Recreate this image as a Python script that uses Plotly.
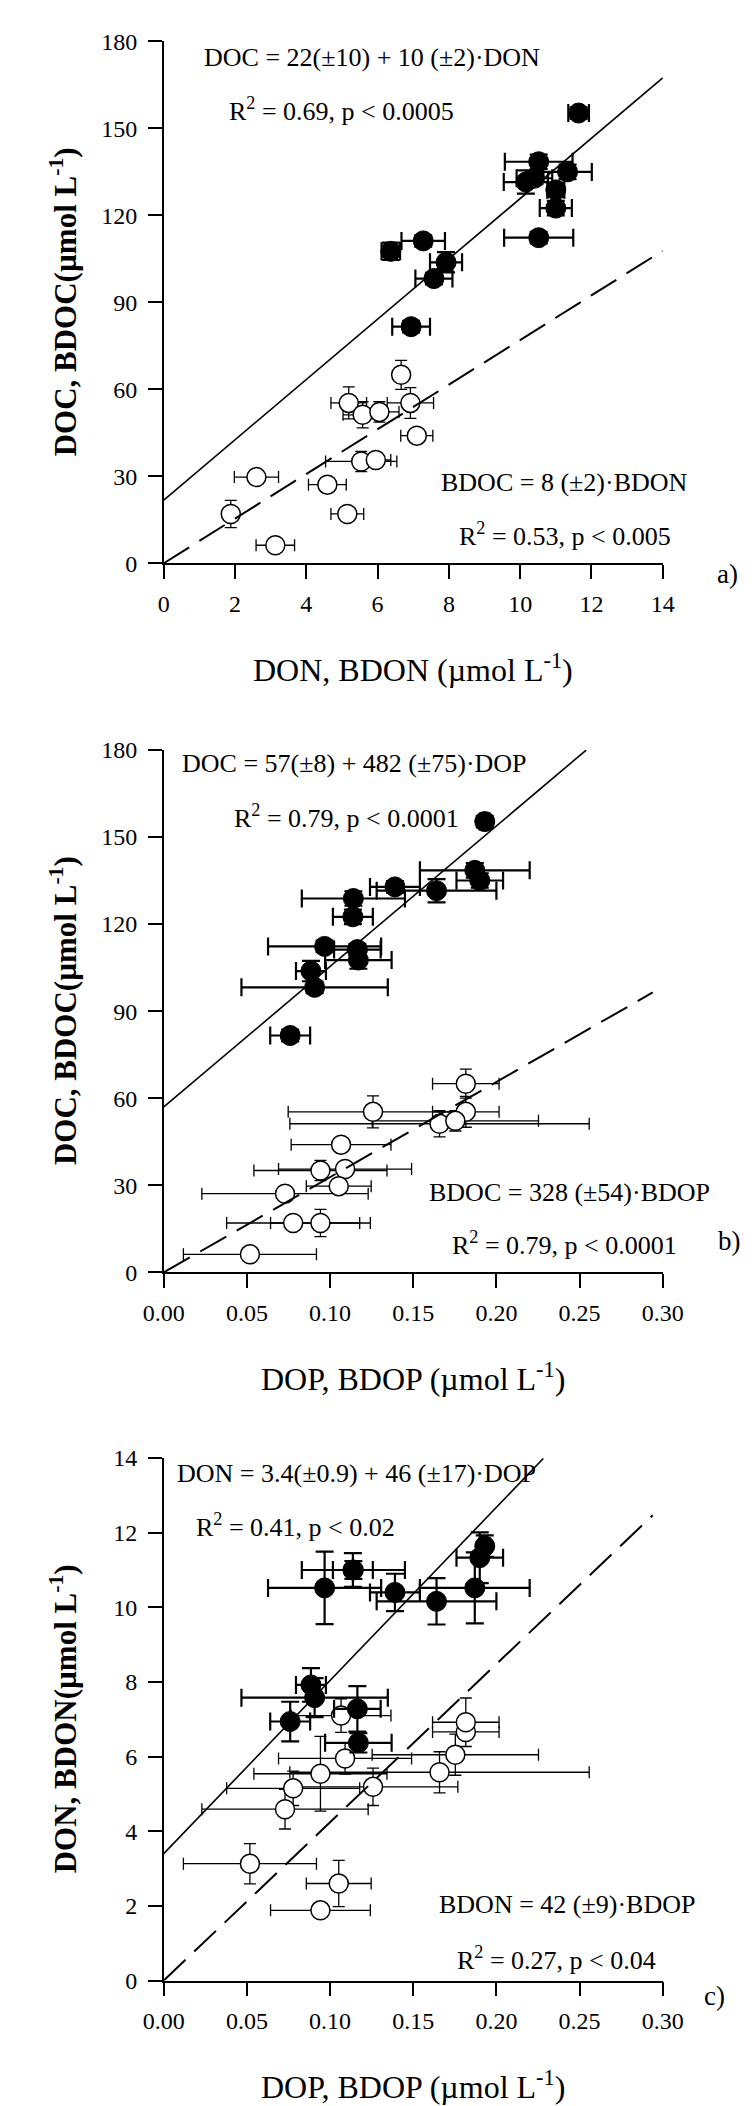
import plotly.graph_objects as go

# ---------------- data ----------------
# filled circles: DOC / DON / DOP (same 13 samples in the three panels)
doc = [155.3, 138.5, 135.0, 132.8, 131.5, 128.8, 122.5, 112.3, 111.2, 107.6, 103.8, 98.2, 81.6]
doc_err = [2.0, 2.5, 2.5, 2.0, 4.0, 2.5, 2.5, 2.0, 2.0, 3.0, 3.5, 2.0, 2.0]
don = [11.64, 10.52, 11.33, 10.40, 10.16, 11.00, 11.00, 10.52, 7.28, 6.37, 7.92, 7.58, 6.94]
don_err = [0.29, 0.95, 0.68, 0.50, 0.62, 0.24, 0.45, 0.97, 0.61, 0.26, 0.45, 0.52, 0.53]
dop = [0.193, 0.187, 0.190, 0.139, 0.164, 0.114, 0.1137, 0.0967, 0.1164, 0.117, 0.0885, 0.0907, 0.076]
dop_err = [0.003, 0.033, 0.014, 0.015, 0.036, 0.031, 0.012, 0.034, 0.014, 0.020, 0.009, 0.044, 0.012]

# open circles: BDOC / BDON / BDOP
bdoc = [65.0, 55.3, 55.3, 51.2, 52.2, 44.0, 35.1, 35.6, 29.7, 27.1, 17.0, 17.0, 6.2]
bdoc_err = [5.0, 5.5, 5.3, 4.5, 3.5, 1.0, 3.5, 1.0, 1.0, 1.0, 4.7, 2.0, 1.0]
bdon = [6.66, 5.19, 6.92, 5.58, 6.05, 7.10, 5.54, 5.95, 2.60, 4.59, 1.88, 5.15, 3.13]
bdon_err = [0.15, 0.50, 0.65, 0.55, 0.55, 0.45, 1.00, 0.42, 0.62, 0.53, 0.15, 0.46, 0.54]
bdop = [0.1816, 0.1258, 0.1816, 0.1658, 0.1753, 0.1066, 0.0942, 0.109, 0.1052, 0.0729, 0.0942, 0.0778, 0.0518]
bdop_err = [0.020, 0.051, 0.020, 0.090, 0.050, 0.030, 0.040, 0.040, 0.0195, 0.050, 0.030, 0.040, 0.040]

# regression lines as drawn: [intercept, slope, x_end]
fit_a_solid = [21.8, 10.4, 14.0]
fit_a_dash = [0.0, 7.7, 14.0]
fit_b_solid = [57.0, 484.0, 0.254]
fit_b_dash = [0.0, 328.0, 0.294]
fit_c_solid = [3.4, 46.4, 0.2282]
fit_c_dash = [0.0, 42.4, 0.294]

# equation texts
eq_a = ["DOC = 22(±10) + 10 (±2)·DON", "R<sup>2</sup> = 0.69, p &lt; 0.0005",
        "BDOC = 8 (±2)·BDON", "R<sup>2</sup> = 0.53, p &lt; 0.005"]
eq_b = ["DOC = 57(±8) + 482 (±75)·DOP", "R<sup>2</sup> = 0.79, p &lt; 0.0001",
        "BDOC = 328 (±54)·BDOP", "R<sup>2</sup> = 0.79, p &lt; 0.0001"]
eq_c = ["DON = 3.4(±0.9) + 46 (±17)·DOP", "R<sup>2</sup> = 0.41, p &lt; 0.02",
        "BDON = 42 (±9)·BDOP", "R<sup>2</sup> = 0.27, p &lt; 0.04"]

# ---------------- layout constants (pixels) ----------------
W, H = 756, 2106
FONT = "Liberation Serif"
X0, X1 = 142.7, 671.0

panels = [
    dict(key="", fx=don, fxe=don_err, fy=doc, fye=doc_err,
         ox=bdon, oxe=bdon_err, oy=bdoc, oye=bdoc_err,
         solid=fit_a_solid, dash=fit_a_dash, xr=[0, 14], dx=2, xf="",
         yr=[0, 180], dy=30, top=20.7, bot=549.0, eqs=eq_a,
         eqpos=[(183, 36.7), (210, 90), (434, 467), (453, 520)],
         lab="a)", labpos=(740, 560),
         xt="DON, BDON (µmol L<sup>-1</sup>)", yt="DOC, BDOC(µmol L<sup>-1</sup>)"),
    dict(key="2", fx=dop, fxe=dop_err, fy=doc, fye=doc_err,
         ox=bdop, oxe=bdop_err, oy=bdoc, oye=bdoc_err,
         solid=fit_b_solid, dash=fit_b_dash, xr=[0, 0.30], dx=0.05, xf=".2f",
         yr=[0, 180], dy=30, top=738.0, bot=1267.0, eqs=eq_b,
         eqpos=[(160, 752), (215, 805), (421, 1186), (446, 1238)],
         lab="b)", labpos=(742, 1235),
         xt="DOP, BDOP (µmol L<sup>-1</sup>)", yt="DOC, BDOC(µmol L<sup>-1</sup>)"),
    dict(key="3", fx=dop, fxe=dop_err, fy=don, fye=don_err,
         ox=bdop, oxe=bdop_err, oy=bdon, oye=bdon_err,
         solid=fit_c_solid, dash=fit_c_dash, xr=[0, 0.30], dx=0.05, xf=".2f",
         yr=[0, 14], dy=2, top=1455.0, bot=1984.0, eqs=eq_c,
         eqpos=[(155, 1471), (175, 1523), (432, 1907), (451, 1962)],
         lab="c)", labpos=(726, 2000),
         xt="DOP, BDOP (µmol L<sup>-1</sup>)", yt="DON, BDON(µmol L<sup>-1</sup>)"),
]


def px(x):
    return x / W


def py(y):
    return 1 - y / H


fig = go.Figure()
annotations = []
layout_axes = {}

for p in panels:
    k = p["key"]
    xa, ya = "x" + k, "y" + k
    # open circles
    fig.add_trace(go.Scatter(
        x=p["ox"], y=p["oy"], mode="markers", xaxis=xa, yaxis=ya, showlegend=False,
        marker=dict(symbol="circle", size=19, color="white", line=dict(color="black", width=1.5)),
        error_x=dict(type="data", array=p["oxe"], color="black", thickness=1.3, width=6),
        error_y=dict(type="data", array=p["oye"], color="black", thickness=1.3, width=6),
    ))
    # filled circles
    fig.add_trace(go.Scatter(
        x=p["fx"], y=p["fy"], mode="markers", xaxis=xa, yaxis=ya, showlegend=False,
        marker=dict(symbol="circle", size=20, color="black", line=dict(color="black", width=1)),
        error_x=dict(type="data", array=p["fxe"], color="black", thickness=2.2, width=9),
        error_y=dict(type="data", array=p["fye"], color="black", thickness=2.2, width=9),
    ))
    # regression lines
    b0, b1, xe = p["solid"]
    fig.add_trace(go.Scatter(x=[0, xe], y=[b0, b0 + b1 * xe], mode="lines", xaxis=xa, yaxis=ya,
                             showlegend=False, line=dict(color="black", width=1.6)))
    b0, b1, xe = p["dash"]
    fig.add_trace(go.Scatter(x=[0, xe], y=[b0, b0 + b1 * xe], mode="lines", xaxis=xa, yaxis=ya,
                             showlegend=False, line=dict(color="black", width=2, dash="30px,12px")))

    common = dict(showline=True, linecolor="black", linewidth=1.5, ticks="outside",
                  ticklen=14, tickwidth=1.5, tickcolor="black", showgrid=False,
                  zeroline=False, tickfont=dict(family=FONT, size=24, color="black"))
    layout_axes["xaxis" + k] = dict(common, domain=[px(X0), px(X1)], range=p["xr"],
                                    dtick=p["dx"], tick0=0, tickformat=p["xf"],
                                    anchor=ya, ticklabelstandoff=4)
    layout_axes["yaxis" + k] = dict(common, domain=[py(p["bot"]), py(p["top"])], range=p["yr"],
                                    dtick=p["dy"], tick0=0, anchor=xa, ticklabelstandoff=6)

    for txt, (lx, ly) in zip(p["eqs"], p["eqpos"]):
        annotations.append(dict(text=txt, x=px(lx), y=py(ly), xref="paper", yref="paper",
                                xanchor="left", yanchor="middle", showarrow=False,
                                font=dict(family=FONT, size=26, color="black")))
    annotations.append(dict(text=p["lab"], x=px(p["labpos"][0]), y=py(p["labpos"][1]),
                            xref="paper", yref="paper", xanchor="center", yanchor="middle",
                            showarrow=False, font=dict(family=FONT, size=27, color="black")))
    annotations.append(dict(text=p["xt"], x=px((X0 + X1) / 2), y=py(p["bot"] + 106),
                            xref="paper", yref="paper", xanchor="center", yanchor="middle",
                            showarrow=False, font=dict(family=FONT, size=32, color="black")))
    annotations.append(dict(text="<b>" + p["yt"] + "</b>", x=px(36), y=py((p["top"] + p["bot"]) / 2),
                            xref="paper", yref="paper", xanchor="center", yanchor="middle",
                            textangle=-90, showarrow=False,
                            font=dict(family=FONT, size=31, color="black")))

fig.update_layout(width=W, height=H, margin=dict(l=0, r=0, t=0, b=0),
                  paper_bgcolor="white", plot_bgcolor="white",
                  annotations=annotations, **layout_axes)

fig.write_html("out.html")
